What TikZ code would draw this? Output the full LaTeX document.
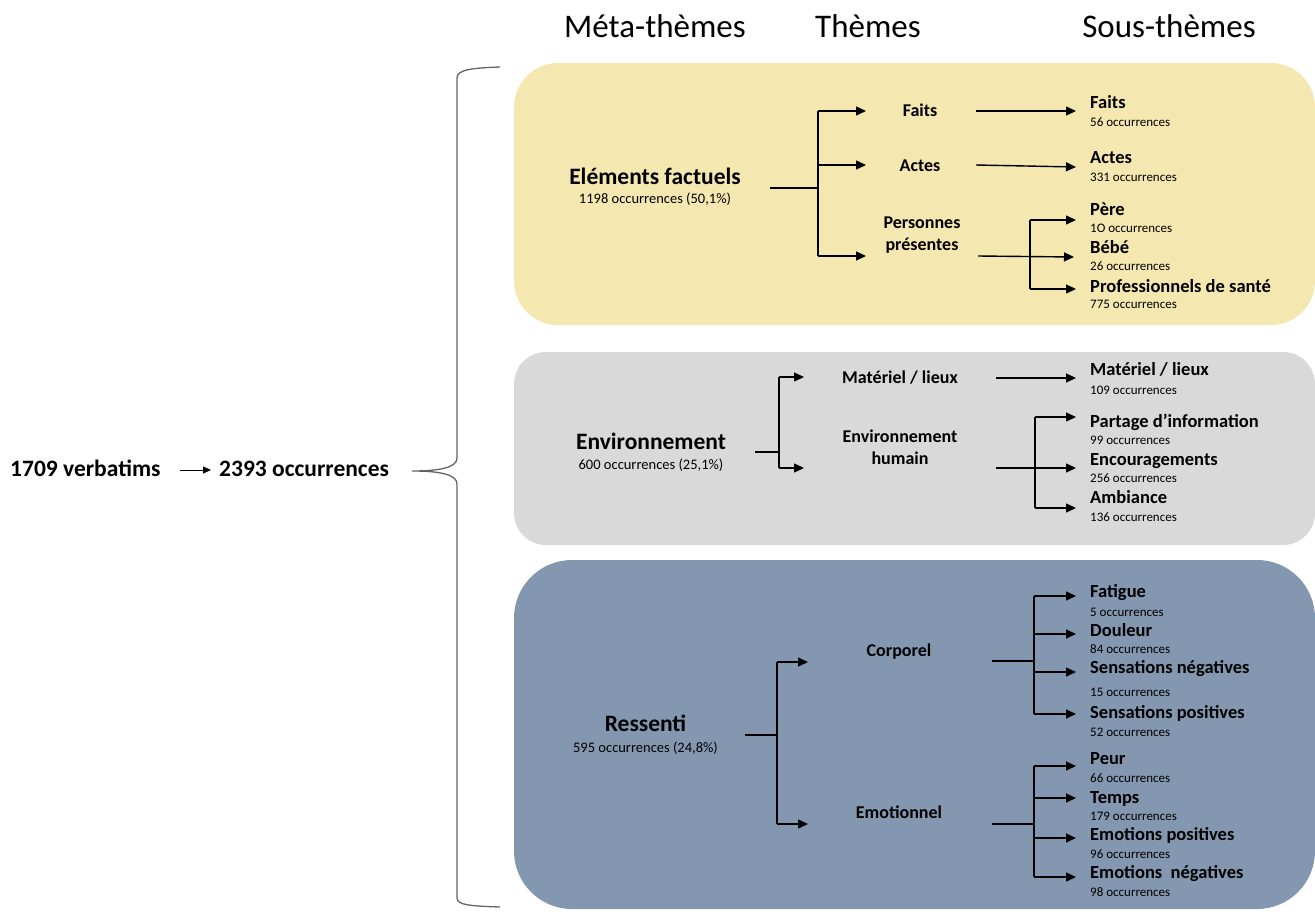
\documentclass[tikz,border=0pt]{standalone}
\usepackage{fontspec}
\setmainfont{Carlito}
\usetikzlibrary{arrows.meta}
\definecolor{ylw}{RGB}{244,231,176}
\definecolor{gry}{RGB}{217,217,217}
\definecolor{blu}{RGB}{132,151,176}
\definecolor{brc}{RGB}{100,100,100}
\begin{document}
\begin{tikzpicture}[x=1pt,y=-1pt,
  hdr/.style={font=\fontsize{33}{36}\selectfont, anchor=base, inner sep=0pt},
  lefttxt/.style={font=\bfseries\fontsize{23.5}{26}\selectfont, anchor=base west, inner sep=0pt},
  meta/.style={font=\bfseries\fontsize{23.5}{26}\selectfont, anchor=base, inner sep=0pt},
  metaocc/.style={font=\fontsize{14.5}{16}\selectfont, anchor=base, inner sep=0pt},
  theme/.style={font=\bfseries\fontsize{18}{22}\selectfont, align=center, text height=11.6pt, text depth=0pt, inner sep=0pt},
  themetwo/.style={theme, text depth=22pt},
  sub/.style={font=\bfseries\fontsize{18.5}{20}\selectfont, anchor=base west, inner sep=0pt},
  occ/.style={font=\fontsize{13}{15}\selectfont, anchor=base west, inner sep=0pt},
  conn/.style={line width=1.4pt, black},
  arr/.style={conn, -{Triangle[length=10pt,width=9pt]}},
  brace/.style={line width=1.3pt, brc},
]
\useasboundingbox (0,0) rectangle (1315,911);

% background boxes
\fill[ylw, rounded corners=44pt] (514,63) rectangle (1315,325);
\fill[gry, rounded corners=32pt] (514,352) rectangle (1315,545);
\fill[blu, rounded corners=58pt] (514,560) rectangle (1315,909);

% headers
\node[hdr] (h1) at (655,37) {Méta-thèmes};
\node[hdr] (h2) at (868,37) {Thèmes};
\node[hdr] (h3) at (1169,37) {Sous-thèmes};

% left part
\node[lefttxt] (verb) at (10,476.5) {1709 verbatims};
\node[lefttxt] (occt) at (219,476.5) {2393 occurrences};
\coordinate (va) at (180,470);
\coordinate (vb) at (211,470);
\draw[line width=1pt, -{Triangle[length=8pt,width=7pt]}] (va) -- (vb);

% brace
\coordinate (bt) at (500,67);
\coordinate (bm) at (412,471);
\coordinate (bb) at (500,907);
\draw[brace] (bt) .. controls (470,68) and (457,70) .. (457,78) -- (457,458)
  .. controls (457,468) and (438,471) .. (bm)
  .. controls (438,471) and (457,474) .. (457,484) -- (457,898)
  .. controls (457,905) and (470,906) .. (bb);

% ===== Eléments factuels =====
\node[meta] (m1) at (655,184) {Eléments factuels};
\node[metaocc] (m1o) at (655,203) {1198 occurrences (50,1\%)};
\node[theme] (t11) at (920,111) {Faits};
\node[theme] (t12) at (920,166) {Actes};
\node[themetwo] (t13) at (922,256) {Personnes\\présentes};

\coordinate (m1r) at (770,188);
\coordinate (j1) at (818,188);
\coordinate (j1a) at (818,111);
\coordinate (j1b) at (818,165);
\coordinate (j1c) at (818,256);
\draw[conn] (m1r) -- (j1);
\draw[conn] (j1a) -- (j1c);
\draw[arr] (j1a) -- (866,111) coordinate (e11);
\draw[arr] (j1b) -- (866,165) coordinate (e12);
\draw[arr] (j1c) -- (866,256) coordinate (e13);

\node[sub] (s11) at (1090,108.8) {Faits};
\node[occ] (o11) at (1090,126.1) {56 occurrences};
\node[sub] (s12) at (1090,163.8) {Actes};
\node[occ] (o12) at (1090,181.1) {331 occurrences};
\node[sub] (s13) at (1090,215.8) {Père};
\node[occ] (o13) at (1090,232.1) {1O occurrences};
\node[sub] (s14) at (1090,253.8) {Bébé};
\node[occ] (o14) at (1090,270.1) {26 occurrences};
\node[sub] (s15) at (1090,292.8) {Professionnels de santé};
\node[occ] (o15) at (1090,308.1) {775 occurrences};

\coordinate (f1s) at (976,111);
\coordinate (f1e) at (1076,111);
\draw[arr] (f1s) -- (f1e);
\coordinate (a1s) at (976,165);
\coordinate (a1e) at (1076,167);
\draw[arr] (a1s) -- (a1e);
\coordinate (p1s) at (978,256);
\coordinate (p1j) at (1030,256);
\coordinate (p1ja) at (1030,220);
\coordinate (p1jc) at (1030,289);
\draw[arr] (p1s) -- (1074,257) coordinate (p1b);
\draw[conn] (p1ja) -- (p1jc);
\draw[arr] (p1ja) -- (1076,220) coordinate (p1a);
\draw[arr] (p1jc) -- (1076,289) coordinate (p1c);

% ===== Environnement =====
\node[meta] (m2) at (651,449.6) {Environnement};
\node[metaocc] (m2o) at (651,469.6) {600 occurrences (25,1\%)};
\node[theme] (t21) at (900,378) {Matériel / lieux};
\node[themetwo] (t22) at (900,470) {Environnement\\humain};

\coordinate (m2r) at (755,452);
\coordinate (j2) at (779,452);
\coordinate (j2a) at (779,377);
\coordinate (j2b) at (779,468);
\draw[conn] (m2r) -- (j2);
\draw[conn] (j2a) -- (j2b);
\draw[arr] (j2a) -- (804,377) coordinate (e21);
\draw[arr] (j2b) -- (804,468) coordinate (e22);

\node[sub] (s21) at (1090,375.8) {Matériel / lieux};
\node[occ] (o21) at (1090,394.1) {109 occurrences};
\node[sub] (s22) at (1090,427.8) {Partage d’information};
\node[occ] (o22) at (1090,444.1) {99 occurrences};
\node[sub] (s23) at (1090,465.8) {Encouragements};
\node[occ] (o23) at (1090,482.1) {256 occurrences};
\node[sub] (s24) at (1090,503.8) {Ambiance};
\node[occ] (o24) at (1090,521.1) {136 occurrences};

\coordinate (ml2s) at (996,378);
\draw[arr] (ml2s) -- (1076,378) coordinate (ml2e);
\coordinate (eh2s) at (996,468);
\coordinate (j3a) at (1035,417);
\coordinate (j3c) at (1035,508);
\draw[arr] (eh2s) -- (1076,468) coordinate (eh2b);
\draw[conn] (j3a) -- (j3c);
\draw[arr] (j3a) -- (1076,417) coordinate (eh2a);
\draw[arr] (j3c) -- (1076,508) coordinate (eh2c);

% ===== Ressenti =====
\node[meta] (m3) at (645.5,731.6) {Ressenti};
\node[metaocc] (m3o) at (645.5,752.6) {595 occurrences (24,8\%)};
\node[theme] (t31) at (899,651) {Corporel};
\node[theme] (t32) at (899,813) {Emotionnel};

\coordinate (m3r) at (745,735);
\coordinate (j4) at (777,735);
\coordinate (j4a) at (777,662);
\coordinate (j4b) at (777,824);
\draw[conn] (m3r) -- (j4);
\draw[conn] (j4a) -- (j4b);
\draw[arr] (j4a) -- (808,662) coordinate (e31);
\draw[arr] (j4b) -- (808,824) coordinate (e32);

\node[sub] (s31) at (1090,597.8) {Fatigue};
\node[occ] (o31) at (1090,616.1) {5 occurrences};
\node[sub] (s32) at (1090,636.8) {Douleur};
\node[occ] (o32) at (1090,653.1) {84 occurrences};
\node[sub] (s33) at (1090,673.8) {Sensations négatives};
\node[occ] (o33) at (1090,696.1) {15 occurrences};
\node[sub] (s34) at (1090,718.8) {Sensations positives};
\node[occ] (o34) at (1090,736.1) {52 occurrences};
\node[sub] (s35) at (1090,764.8) {Peur};
\node[occ] (o35) at (1090,782.1) {66 occurrences};
\node[sub] (s36) at (1090,803.8) {Temps};
\node[occ] (o36) at (1090,820.1) {179 occurrences};
\node[sub] (s37) at (1090,840.8) {Emotions positives};
\node[occ] (o37) at (1090,858.1) {96 occurrences};
\node[sub] (s38) at (1090,878.8) {Emotions~ négatives};
\node[occ] (o38) at (1090,896.1) {98 occurrences};

\coordinate (c3s) at (992,661);
\coordinate (c3j) at (1034,661);
\coordinate (c3a) at (1034,596);
\coordinate (c3d) at (1034,714);
\draw[conn] (c3s) -- (c3j);
\draw[conn] (c3a) -- (c3d);
\draw[arr] (c3a) -- (1076,596) coordinate (c3ae);
\draw[arr] (1034,634) coordinate (c3b) -- (1076,634) coordinate (c3be);
\draw[arr] (1034,672) coordinate (c3c) -- (1076,672) coordinate (c3ce);
\draw[arr] (c3d) -- (1076,714) coordinate (c3de);

\coordinate (e3s) at (992,824);
\coordinate (e3j) at (1034,824);
\coordinate (e3a) at (1034,766);
\coordinate (e3d) at (1034,877);
\draw[conn] (e3s) -- (e3j);
\draw[conn] (e3a) -- (e3d);
\draw[arr] (e3a) -- (1076,766) coordinate (e3ae);
\draw[arr] (1034,798) coordinate (e3b) -- (1076,798) coordinate (e3be);
\draw[arr] (1034,838) coordinate (e3c) -- (1076,838) coordinate (e3ce);
\draw[arr] (e3d) -- (1076,877) coordinate (e3de);
\end{tikzpicture}
\end{document}
